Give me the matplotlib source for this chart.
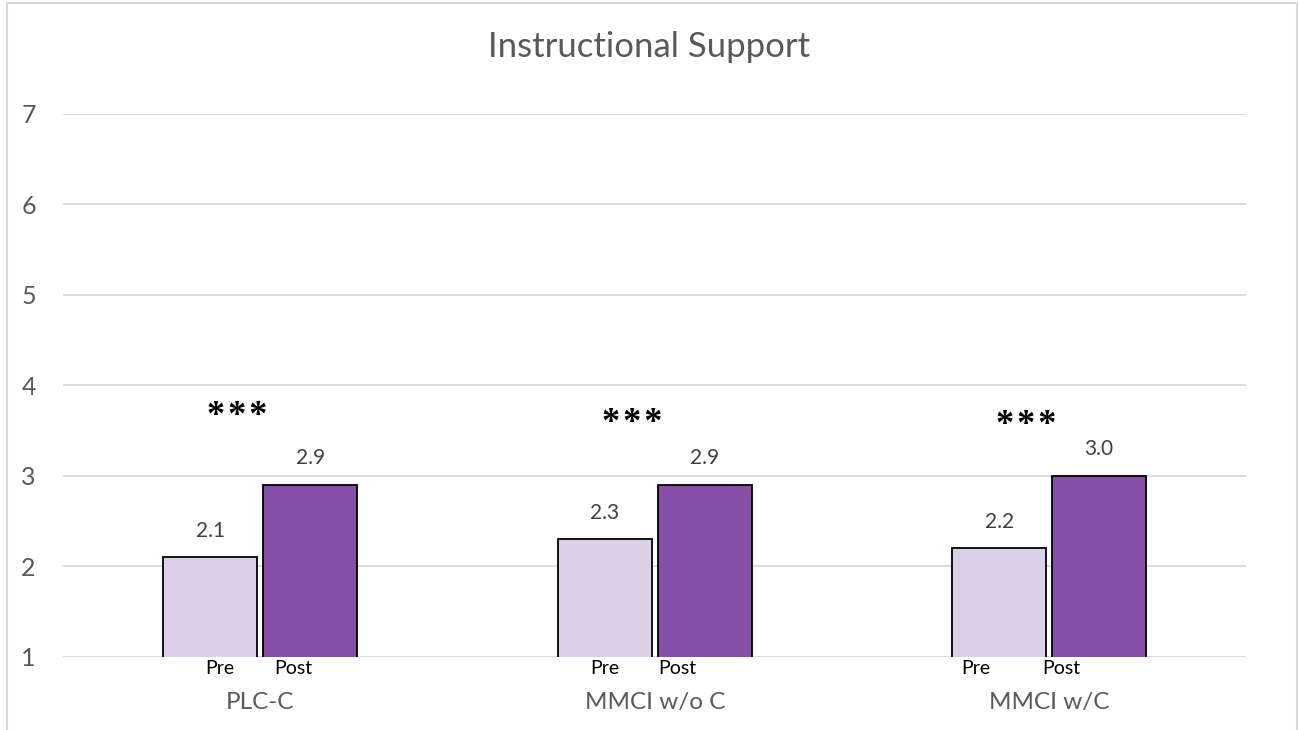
import matplotlib.pyplot as plt
from matplotlib.patches import Rectangle
import numpy as np

# Chart data
groups = ['PLC-C', 'MMCI w/o C', 'MMCI w/C']
pre_scores = [2.1, 2.3, 2.2]
post_scores = [2.9, 2.9, 3.0]
sig_marks = ['***', '***', '***']
phase_labels = ['Pre', 'Post']

plt.rcParams['font.family'] = ['Lato', 'DejaVu Sans']

fig = plt.figure(figsize=(12.99, 7.30), dpi=100)
ax = fig.add_axes([0.0485, 0.10, 0.911, 0.7445])

# thin light border around the whole chart like the Excel chart area
fig.patches.append(Rectangle((7 / 1299, -0.05), 1290 / 1299, 1.05 - 3 / 730,
                             transform=fig.transFigure, fill=False,
                             edgecolor='#d9d9d9', linewidth=1.5))

x = np.arange(len(groups))
width = 0.238
gap = 0.0075

pre_bars = ax.bar(x - width / 2 - gap, pre_scores, width, bottom=0,
                  color='#ddcfe8', edgecolor='black', linewidth=1.3, zorder=3)
post_bars = ax.bar(x + width / 2 + gap, post_scores, width, bottom=0,
                   color='#8650a8', edgecolor='black', linewidth=1.3, zorder=3)

# value labels above the bars
for bars, vals in [(pre_bars, pre_scores), (post_bars, post_scores)]:
    for b, v in zip(bars, vals):
        ax.annotate(f'{v:.1f}', (b.get_x() + b.get_width() / 2, v),
                    xytext=(0, 12), textcoords='offset points',
                    ha='center', va='bottom', fontsize=15, color='#404040')

# significance stars (spaced out a little like the original)
star_offsets = [-0.058, -0.056, -0.058]
star_heights = [3.66, 3.58, 3.56]
for i, mark in enumerate(sig_marks):
    ax.text(x[i] + star_offsets[i], star_heights[i], '\u200a'.join(mark),
            ha='center', va='center', fontsize=26, color='black',
            fontweight='bold', family=['Liberation Serif', 'DejaVu Serif'])

# Pre / Post labels under each bar
pre_shift = [0.025, 0.0, -0.06]
post_shift = [-0.043, -0.068, -0.096]
for i in range(len(groups)):
    ax.text(x[i] - width / 2 - gap + pre_shift[i], 0.97, phase_labels[0],
            ha='center', va='top', fontsize=14, color='black')
    ax.text(x[i] + width / 2 + gap + post_shift[i], 0.97, phase_labels[1],
            ha='center', va='top', fontsize=14, color='black')

ax.set_xticks(x)
ax.set_xticklabels(groups, fontsize=17.5, color='#595959')
ax.tick_params(axis='x', length=0, pad=25)

ax.set_ylim(1, 7)
ax.set_xlim(-0.5, 2.5)
ax.set_yticks(range(1, 8))
ax.tick_params(axis='y', length=0, labelsize=18, labelcolor='#595959', pad=30)
for lbl in ax.get_yticklabels():
    lbl.set_horizontalalignment('left')
ax.yaxis.grid(True, color='#d9d9d9', linewidth=1.3, zorder=0)
ax.set_axisbelow(True)
for s in ax.spines.values():
    s.set_visible(False)

fig.text(0.5, 0.935, 'Instructional Support', ha='center', va='center',
         fontsize=25, color='#595959')

fig.savefig('out.png', dpi=100)
